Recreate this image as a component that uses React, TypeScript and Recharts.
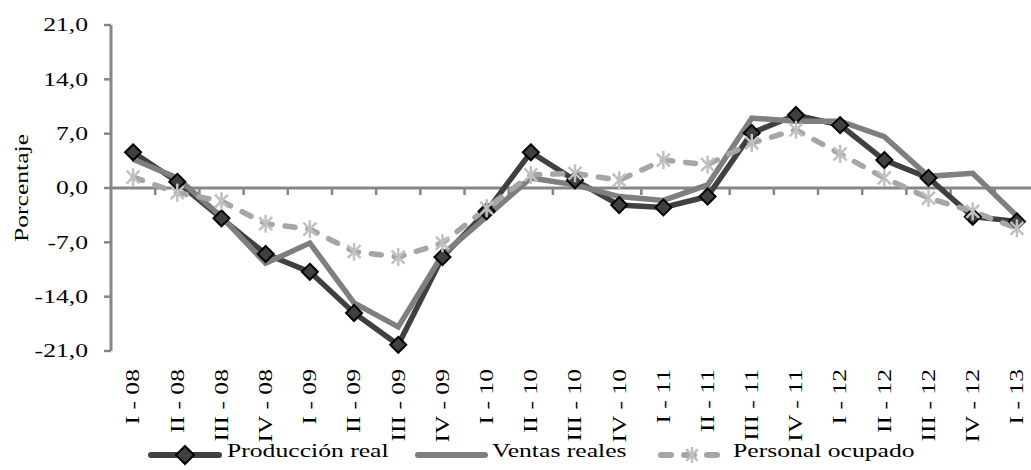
import React from 'react';
import { LineChart, Line, XAxis, YAxis, ReferenceLine } from 'recharts';

const categories = [
  'I - 08', 'II - 08', 'III - 08', 'IV - 08',
  'I - 09', 'II - 09', 'III - 09', 'IV - 09',
  'I - 10', 'II - 10', 'III - 10', 'IV - 10',
  'I - 11', 'II - 11', 'III - 11', 'IV - 11',
  'I - 12', 'II - 12', 'III - 12', 'IV - 12',
  'I - 13',
];
const produccion = [4.6, 0.8, -3.9, -8.5, -10.8, -16.1, -20.2, -8.9, -3.0, 4.6, 1.0, -2.2, -2.5, -1.1, 7.1, 9.4, 8.1, 3.6, 1.3, -3.7, -4.3];
const ventas = [3.7, 1.3, -3.7, -9.7, -7.1, -14.8, -17.9, -8.6, -3.7, 1.3, 0.4, -1.1, -1.6, 0.4, 9.0, 8.6, 8.6, 6.6, 1.5, 1.9, -3.6];
const personal = [1.4, -0.6, -1.7, -4.6, -5.3, -8.2, -8.9, -7.1, -2.6, 1.7, 1.9, 1.0, 3.6, 3.0, 5.8, 7.5, 4.4, 1.3, -1.3, -3.0, -5.2];
const yTicks = [-21, -14, -7, 0, 7, 14, 21];

const data = categories.map((c, i) => ({
  cat: c,
  produccion: produccion[i],
  ventas: ventas[i],
  personal: personal[i],
}));

const FONT = '"Liberation Serif", "Times New Roman", serif';
const STRETCH = 1.35;
const AXIS = '#868686';
const C_PROD = '#404040';
const C_VENT = '#7f7f7f';
const C_PERS = '#a6a6a6';
const C_STAR = '#c0c0c0';

const fmt = (v: number) => v.toFixed(1).replace('.', ',');

const YTick = (props: any) => {
  const { x, y, payload } = props;
  return (
    <text
      transform={`translate(${x},${y}) scale(${STRETCH},1)`}
      textAnchor="end"
      dominantBaseline="central"
      fontFamily={FONT}
      fontSize={19}
      fill="#000"
    >
      {fmt(payload.value)}
    </text>
  );
};

const XTick = (props: any) => {
  const { x, y, payload } = props;
  return (
    <text
      transform={`translate(${x},${y}) rotate(-90) scale(${STRETCH},1)`}
      textAnchor="end"
      dominantBaseline="central"
      fontFamily={FONT}
      fontSize={19}
      fill="#000"
    >
      {payload.value}
    </text>
  );
};

// zero line with the category separator ticks hanging below it
const ZeroLine = (props: any) => {
  const { x1, y1, x2, y2 } = props;
  const n = categories.length;
  const step = (x2 - x1) / n;
  return (
    <g>
      <line x1={x1} y1={y1} x2={x2} y2={y2} stroke={AXIS} strokeWidth={3} />
      {categories.map((_, i) => (
        <line key={i} x1={x1 + (i + 1) * step} y1={y1} x2={x1 + (i + 1) * step} y2={y1 + 7} stroke={AXIS} strokeWidth={2.5} />
      ))}
    </g>
  );
};

const Diamond = ({ cx, cy, r = 8 }: any) => {
  if (cx == null || cy == null) return null;
  return (
    <path
      d={`M${cx},${cy - r}L${cx + r},${cy}L${cx},${cy + r}L${cx - r},${cy}Z`}
      fill={C_PROD}
      stroke="#000"
      strokeWidth={2}
    />
  );
};

const Star = ({ cx, cy, r = 9 }: any) => {
  if (cx == null || cy == null) return null;
  const d = r * 0.72;
  return (
    <g stroke={C_STAR} strokeWidth={2.5}>
      <line x1={cx} y1={cy - r} x2={cx} y2={cy + r} />
      <line x1={cx - d} y1={cy - d} x2={cx + d} y2={cy + d} />
      <line x1={cx - d} y1={cy + d} x2={cx + d} y2={cy - d} />
    </g>
  );
};

const LegendText = ({ x, children }: any) => (
  <text
    transform={`translate(${x},457) scale(${STRETCH},1)`}
    fontFamily={FONT}
    fontSize={19}
    fill="#000"
  >
    {children}
  </text>
);

export default function App() {
  return (
    <div style={{ position: 'absolute', left: 0, top: 0, width: 1031, height: 470, overflow: 'hidden', background: '#fff' }}>
      <LineChart width={1045} height={470} data={data} margin={{ top: 25, right: 6, left: 0, bottom: 19 }}>
        <XAxis
          dataKey="cat"
          scale="band"
          interval={0}
          axisLine={false}
          tickLine={false}
          tickSize={0}
          tickMargin={18}
          height={100}
          tick={<XTick />}
        />
        <YAxis
          width={111}
          domain={[-21, 21]}
          ticks={yTicks}
          interval={0}
          axisLine={{ stroke: AXIS, strokeWidth: 3 }}
          tickLine={{ stroke: AXIS, strokeWidth: 2.5 }}
          tickSize={7}
          tickMargin={16}
          tick={<YTick />}
          label={{
            content: () => (
              <text
                transform={`translate(22,188) rotate(-90) scale(${STRETCH},1)`}
                textAnchor="middle"
                dominantBaseline="central"
                fontFamily={FONT}
                fontSize={19}
                fill="#000"
              >
                Porcentaje
              </text>
            ),
          }}
        />
        <ReferenceLine y={0} shape={(p: any) => <ZeroLine {...p} />} />
        <Line
          type="linear"
          dataKey="produccion"
          stroke={C_PROD}
          strokeWidth={5.5}
          dot={(p: any) => <Diamond key={p.index} cx={p.cx} cy={p.cy} />}
          activeDot={false}
          isAnimationActive={false}
        />
        <Line
          type="linear"
          dataKey="ventas"
          stroke={C_VENT}
          strokeWidth={5.5}
          dot={false}
          activeDot={false}
          isAnimationActive={false}
        />
        <Line
          type="linear"
          dataKey="personal"
          stroke={C_PERS}
          strokeWidth={5.5}
          strokeDasharray="10 13"
          strokeLinecap="round"
          dot={(p: any) => <Star key={p.index} cx={p.cx} cy={p.cy} />}
          activeDot={false}
          isAnimationActive={false}
        />
      </LineChart>
      <svg width={1031} height={470} style={{ position: 'absolute', left: 0, top: 0, pointerEvents: 'none' }}>
        <line x1={151} y1={455} x2={219} y2={455} stroke={C_PROD} strokeWidth={6} strokeLinecap="round" />
        <Diamond cx={185} cy={455} r={9} />
        <LegendText x={227}>Producción real</LegendText>
        <line x1={418} y1={455} x2={485} y2={455} stroke={C_VENT} strokeWidth={6} strokeLinecap="round" />
        <LegendText x={492}>Ventas reales</LegendText>
        <line x1={661} y1={455} x2={720} y2={455} stroke={C_PERS} strokeWidth={6} strokeLinecap="round" strokeDasharray="10 13" />
        <Star cx={692} cy={455} r={8} />
        <LegendText x={733}>Personal ocupado</LegendText>
      </svg>
    </div>
  );
}
